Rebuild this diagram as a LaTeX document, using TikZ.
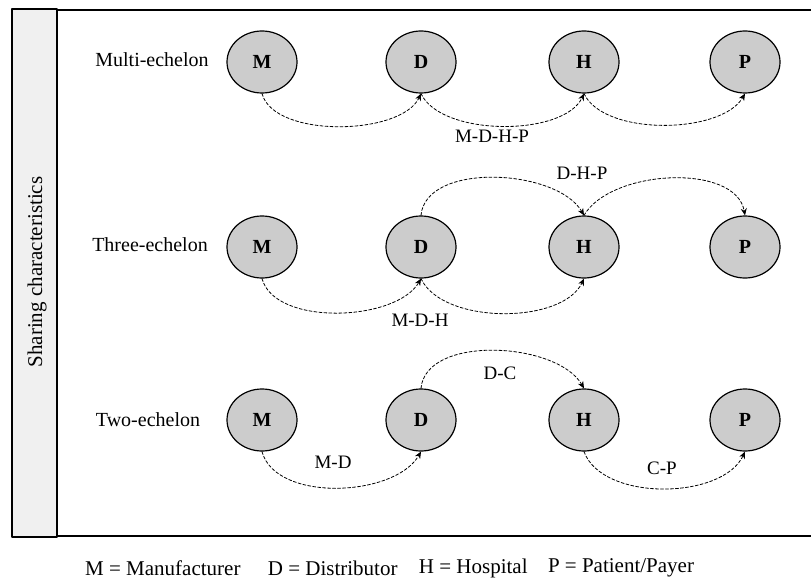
\documentclass[tikz,border=0pt]{standalone}
\usepackage{fontspec}
\setmainfont{Liberation Serif}
\usetikzlibrary{arrows.meta,shapes.geometric,positioning}

\begin{document}
\begin{tikzpicture}[
    x=1pt,
    y=-1pt,
    >={Stealth[length=7pt,width=6pt]},
    line cap=round,
    line join=round,
    nodo/.style={ellipse, draw, line width=1.2pt, fill=gray!40,
        minimum width=70pt, minimum height=62pt, inner sep=0pt,
        font=\fontsize{20}{22}\selectfont\bfseries},
    flusso/.style={->, densely dashed, line width=0.8pt},
    livello/.style={font=\fontsize{20}{22}\selectfont},
    etichetta/.style={font=\fontsize{19}{22}\selectfont},
    legenda/.style={font=\fontsize{21}{24}\selectfont, inner sep=0pt}
]

\useasboundingbox (0,0) rectangle (811,583);

% Cornice
\draw[line width=1.3pt, fill=gray!12] (12,9) rectangle (57,537);
\draw[line width=1.3pt] (57,10) -- (811,10);
\draw[line width=1.3pt] (57,536) -- (811,536);
\node[rotate=90, font=\fontsize{21}{24}\selectfont] (asse) at (37,272) {Sharing characteristics};

% Nodi
\foreach \r/\yr in {1/62,2/247,3/420}{
    \node[nodo] (m\r) at (262,\yr) {M};
    \node[nodo] (d\r) at (421,\yr) {D};
    \node[nodo] (h\r) at (584,\yr) {H};
    \node[nodo] (p\r) at (745,\yr) {P};
}

% Livelli
\node[livello] (multi) at (152,60)  {Multi-echelon};
\node[livello] (three) at (150,245) {Three-echelon};
\node[livello] (two)   at (148,420) {Two-echelon};

% Multi-echelon
\draw[flusso] (m1.south) to[out=-75,in=-115,looseness=0.75] (d1.south);
\draw[flusso] (d1.south) to[out=-65,in=-115,looseness=0.75] (h1.south);
\draw[flusso] (h1.south) to[out=-65,in=-120,looseness=0.75] (p1.south);
\node[etichetta] (mdhp) at (492,136) {M-D-H-P};

% Three-echelon
\draw[flusso] (d2.north) to[out=85,in=120,looseness=0.85] (h2.north);
\draw[flusso] (h2.north) to[out=60,in=100,looseness=0.85] (p2.north);
\draw[flusso] (m2.south) to[out=-75,in=-120,looseness=0.8] (d2.south);
\draw[flusso] (d2.south) to[out=-65,in=-115,looseness=0.8] (h2.south);
\node[etichetta] (dhp) at (582,173) {D-H-P};
\node[etichetta] (mdh) at (420,320) {M-D-H};

% Two-echelon
\draw[flusso] (m3.south) to[out=-75,in=-120,looseness=0.85] (d3.south);
\draw[flusso] (d3.north) to[out=85,in=120,looseness=0.85] (h3.north);
\draw[flusso] (h3.south) to[out=-70,in=-115,looseness=0.85] (p3.south);
\node[etichetta] (md) at (333,462) {M-D};
\node[etichetta] (dc) at (500,373) {D-C};
\node[etichetta] (cp) at (662,468) {C-P};

% Legenda
\node[legenda, anchor=west] (lm) at (85,568) {M = Manufacturer};
\node[legenda, right=27pt of lm] (ld) {D = Distributor};
\node[legenda, right=21pt of ld] (lh) {H = Hospital};
\node[legenda, right=20pt of lh] (lp) {P = Patient/Payer};

\end{tikzpicture}
\end{document}
